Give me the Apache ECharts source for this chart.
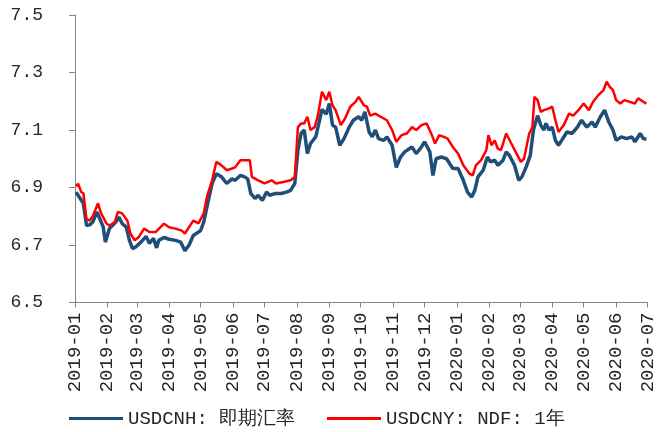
<!DOCTYPE html>
<html><head><meta charset="utf-8">
<script src="https://cdn.jsdelivr.net/npm/echarts@6/dist/echarts.min.js"></script>
<style>html,body{margin:0;padding:0;background:#fff}#c{width:657px;height:432px}</style>
</head><body><div id="c"></div>
<script>
const seriesNames = ['USDCNH: 即期汇率', 'USDCNY: NDF: 1年'];
const yTicks = [6.5, 6.7, 6.9, 7.1, 7.3, 7.5];

const cnhDates = ['2019-01-02','2019-01-05','2019-01-09','2019-01-12','2019-01-15','2019-01-18','2019-01-22','2019-01-28','2019-01-30',
'2019-02-03','2019-02-09','2019-02-12','2019-02-15','2019-02-19','2019-02-22','2019-02-25','2019-02-28',
'2019-03-05','2019-03-10','2019-03-13','2019-03-17','2019-03-20','2019-03-22','2019-03-27',
'2019-04-01','2019-04-07','2019-04-12','2019-04-16','2019-04-20','2019-04-24',
'2019-05-01','2019-05-04','2019-05-07','2019-05-12','2019-05-16','2019-05-21','2019-05-26','2019-05-31',
'2019-06-03','2019-06-08','2019-06-12','2019-06-15','2019-06-18','2019-06-22','2019-06-25','2019-06-29',
'2019-07-03','2019-07-06','2019-07-11','2019-07-17','2019-07-22','2019-07-26','2019-07-30',
'2019-08-02','2019-08-05','2019-08-08','2019-08-11','2019-08-14','2019-08-19','2019-08-22','2019-08-25','2019-08-29',
'2019-09-01','2019-09-04','2019-09-07','2019-09-11','2019-09-15','2019-09-20','2019-09-24','2019-09-29',
'2019-10-02','2019-10-05','2019-10-09','2019-10-12','2019-10-15','2019-10-18','2019-10-23','2019-10-26','2019-10-31',
'2019-11-04','2019-11-08','2019-11-12','2019-11-19','2019-11-23','2019-11-28',
'2019-12-01','2019-12-06','2019-12-09','2019-12-12','2019-12-17','2019-12-22','2019-12-28',
'2020-01-02','2020-01-07','2020-01-11','2020-01-15','2020-01-18','2020-01-21','2020-01-26','2020-01-30',
'2020-02-02','2020-02-06','2020-02-09','2020-02-14','2020-02-17','2020-02-20','2020-02-25','2020-02-29',
'2020-03-03','2020-03-07','2020-03-11','2020-03-14','2020-03-18','2020-03-21','2020-03-24','2020-03-26','2020-03-29',
'2020-04-01','2020-04-04','2020-04-07','2020-04-10','2020-04-15','2020-04-20','2020-04-25','2020-04-29',
'2020-05-04','2020-05-09','2020-05-12','2020-05-17','2020-05-21','2020-05-25','2020-05-29',
'2020-06-01','2020-06-06','2020-06-11','2020-06-16','2020-06-19','2020-06-24','2020-06-27','2020-06-30'];
const cnhValues = [6.884,6.867,6.845,6.768,6.77,6.78,6.815,6.762,6.71,
6.758,6.78,6.797,6.775,6.762,6.716,6.687,6.693,
6.71,6.73,6.706,6.723,6.69,6.716,6.726,
6.72,6.716,6.71,6.68,6.70,6.733,
6.75,6.78,6.832,6.914,6.948,6.937,6.914,6.93,
6.925,6.942,6.937,6.93,6.879,6.862,6.873,6.855,
6.884,6.873,6.879,6.879,6.884,6.89,6.914,
7.03,7.088,7.10,7.018,7.053,7.076,7.123,7.172,7.155,
7.192,7.117,7.11,7.047,7.07,7.11,7.134,7.146,
7.134,7.163,7.093,7.076,7.10,7.07,7.064,7.076,7.047,
6.97,7.006,7.024,7.041,7.018,7.041,
7.059,7.024,6.942,7.0,7.006,7.0,6.966,
6.966,6.925,6.884,6.867,6.89,6.937,6.96,7.006,
6.989,6.995,6.977,6.995,7.024,7.012,6.977,6.925,
6.937,6.971,7.012,7.10,7.15,7.117,7.10,7.123,7.10,
7.11,7.064,7.047,7.064,7.093,7.088,7.11,7.134,
7.11,7.128,7.11,7.146,7.169,7.128,7.10,
7.064,7.076,7.07,7.076,7.059,7.088,7.07,7.068];

const ndfDates = ['2019-01-02','2019-01-04','2019-01-07','2019-01-09','2019-01-12','2019-01-15','2019-01-18','2019-01-23','2019-01-26','2019-01-31',
'2019-02-03','2019-02-08','2019-02-11','2019-02-15','2019-02-20','2019-02-23','2019-02-27',
'2019-03-03','2019-03-08','2019-03-13','2019-03-19','2019-03-27',
'2019-04-01','2019-04-07','2019-04-13','2019-04-16','2019-04-24','2019-04-29',
'2019-05-04','2019-05-07','2019-05-12','2019-05-16','2019-05-21','2019-05-26','2019-05-31',
'2019-06-03','2019-06-08','2019-06-09','2019-06-14','2019-06-17','2019-06-19','2019-06-25',
'2019-07-01','2019-07-08','2019-07-12','2019-07-20','2019-07-26','2019-07-30',
'2019-08-02','2019-08-05','2019-08-08','2019-08-11','2019-08-14','2019-08-18','2019-08-21','2019-08-25','2019-08-29',
'2019-09-01','2019-09-04','2019-09-07','2019-09-12','2019-09-16','2019-09-21','2019-09-26','2019-09-29',
'2019-10-04','2019-10-07','2019-10-10','2019-10-15','2019-10-20','2019-10-26','2019-10-31',
'2019-11-04','2019-11-09','2019-11-14','2019-11-19','2019-11-23','2019-11-28',
'2019-12-03','2019-12-08','2019-12-11','2019-12-15','2019-12-20','2019-12-23','2019-12-28',
'2020-01-02','2020-01-07','2020-01-13','2020-01-16','2020-01-19','2020-01-24','2020-01-29','2020-01-31',
'2020-02-03','2020-02-06','2020-02-09','2020-02-12','2020-02-17','2020-02-21','2020-02-26',
'2020-03-02','2020-03-05','2020-03-10','2020-03-13','2020-03-15','2020-03-18','2020-03-21','2020-03-24','2020-03-29',
'2020-04-01','2020-04-04','2020-04-07','2020-04-12','2020-04-17','2020-04-21','2020-04-26',
'2020-05-01','2020-05-06','2020-05-10','2020-05-15','2020-05-20','2020-05-23','2020-05-26','2020-05-29',
'2020-06-01','2020-06-05','2020-06-09','2020-06-14','2020-06-19','2020-06-22','2020-06-27','2020-06-30'];
const ndfValues = [6.905,6.913,6.884,6.88,6.79,6.785,6.80,6.845,6.81,6.775,
6.768,6.78,6.815,6.81,6.785,6.74,6.716,
6.728,6.757,6.745,6.745,6.774,
6.762,6.757,6.75,6.74,6.785,6.775,
6.81,6.867,6.925,6.989,6.977,6.96,6.966,
6.97,6.995,7.0,6.995,6.995,6.937,6.925,
6.914,6.925,6.914,6.92,6.925,6.937,
7.11,7.123,7.123,7.146,7.10,7.11,7.15,7.233,7.204,
7.233,7.186,7.169,7.117,7.14,7.181,7.198,7.215,
7.186,7.181,7.15,7.157,7.146,7.134,7.10,
7.059,7.082,7.088,7.11,7.10,7.117,
7.123,7.082,7.053,7.082,7.075,7.07,7.041,
7.018,6.977,6.948,6.942,6.977,6.995,7.03,7.082,
7.047,7.064,7.035,7.03,7.088,7.059,7.024,
6.989,7.0,7.088,7.11,7.215,7.204,7.163,7.169,7.175,
7.181,7.134,7.093,7.117,7.157,7.15,7.169,
7.192,7.169,7.198,7.221,7.239,7.268,7.25,7.239,
7.204,7.192,7.204,7.198,7.192,7.21,7.198,7.192];

const DAY = 86400000;
const FONT = 'Liberation Mono';
const chart = echarts.init(document.getElementById('c'), null, {renderer: 'canvas'});
function pad(n){ return (n < 10 ? '0' : '') + n; }
const legendCommon = {
  orient: 'horizontal', top: 409, padding: 0, icon: 'rect', itemWidth: 54, itemHeight: 3,
  textStyle: {fontFamily: FONT, fontSize: 19, color: '#262626'}
};
chart.setOption({
  animation: false,
  backgroundColor: '#fff',
  grid: {left: 75, right: 4, top: 15, bottom: 129.5, containLabel: false},
  xAxis: {
    type: 'time', min: '2019-01-01', max: '2020-07-01', splitNumber: 18,
    minInterval: 28 * DAY, maxInterval: 31 * DAY,
    axisLine: {lineStyle: {color: '#868686', width: 1}},
    axisTick: {show: true, length: 5, lineStyle: {color: '#868686'}},
    splitLine: {show: false},
    minorTick: {show: false},
    axisLabel: {
      rotate: 90, margin: 10, fontFamily: FONT, fontSize: 19, color: '#262626',
      showMinLabel: true, showMaxLabel: true, hideOverlap: false,
      formatter: function (v) { const d = new Date(v); return d.getFullYear() + '-' + pad(d.getMonth() + 1); }
    }
  },
  yAxis: {
    type: 'value', min: yTicks[0], max: yTicks[yTicks.length - 1], interval: 0.2,
    axisLine: {show: true, lineStyle: {color: '#868686', width: 1}},
    axisTick: {show: true, length: 6, lineStyle: {color: '#868686'}},
    splitLine: {show: false},
    axisLabel: {margin: 32, fontFamily: FONT, fontSize: 18, color: '#262626',
      formatter: function (v) { return v.toFixed(1); }}
  },
  legend: [
    Object.assign({}, legendCommon, {left: 69, data: [seriesNames[0]]}),
    Object.assign({}, legendCommon, {left: 327, data: [seriesNames[1]]})
  ],
  series: [
    {name: seriesNames[0], type: 'line', symbol: 'none', showSymbol: false,
     color: '#1F4E79', lineStyle: {color: '#1F4E79', width: 3.5},
     data: cnhDates.map((d, i) => [d, cnhValues[i]])},
    {name: seriesNames[1], type: 'line', symbol: 'none', showSymbol: false,
     color: '#FF0000', lineStyle: {color: '#FF0000', width: 2.5},
     data: ndfDates.map((d, i) => [d, ndfValues[i]])}
  ]
});
</script></body></html>
